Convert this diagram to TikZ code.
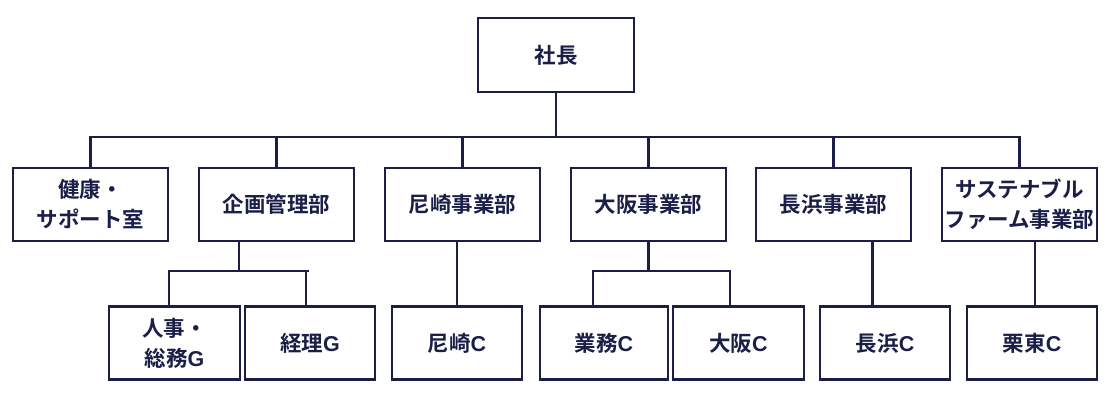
\documentclass[tikz,border=0pt]{standalone}
\usepackage{fontspec}
\newfontfamily\jp{Noto Sans CJK JP}[BoldFont=* Bold]
\newfontfamily\lat{Liberation Sans}
\newcommand{\La}[1]{{\lat\bfseries #1}}
\definecolor{navy}{HTML}{1B1F47}
\begin{document}
\begin{tikzpicture}[x=1pt,y=-1pt,
  box/.style={draw=navy,line width=2.8pt,fill=white,minimum width=155pt,minimum height=73pt,inner sep=0pt,align=center,text=navy,font=\jp\bfseries\fontsize{21.5}{30}\selectfont},
  sbox/.style={box,minimum width=130pt},
  conn/.style={draw=navy,line width=2.2pt}]
\useasboundingbox (0,0) rectangle (1110,400);
\node[box,minimum width=156pt,minimum height=74pt] (ceo) at (556,55) {社長};
\node[box] (d1) at (90.5,204.5) {健康・\\サポート室};
\node[box] (d2) at (276.5,204.5) {企画管理部};
\node[box] (d3) at (462.5,204.5) {尼崎事業部};
\node[box] (d4) at (648.5,204.5) {大阪事業部};
\node[box] (d5) at (833.5,204.5) {長浜事業部};
\node[box] (d6) at (1019.5,204.5) {サステナブル\\ファーム事業部};
\node[sbox,minimum width=131pt] (c1) at (174.5,343) {人事・\\総務\La{G}};
\node[sbox] (c2) at (310,343) {経理\La{G}};
\node[sbox] (c3) at (457,343) {尼崎\La{C}};
\node[sbox,minimum width=128pt] (c4) at (604,343) {業務\La{C}};
\node[sbox,minimum width=131pt] (c5) at (738.5,343) {大阪\La{C}};
\node[sbox] (c6) at (885,343) {長浜\La{C}};
\node[sbox] (c7) at (1032,343) {栗東\La{C}};
% junction coordinates
\coordinate (bus) at (0,137);
\coordinate (sub) at (0,271);
\coordinate (j1) at (169,0);
\coordinate (j2) at (306,0);
\coordinate (j4) at (593,0);
\coordinate (j5) at (730,0);
\coordinate (j6) at (872.5,0);
\coordinate (j7) at (1035,0);
% main bus
\draw[conn] (ceo.south) -- (ceo.south |- bus);
\draw[conn] (d1.north) -- (d1.north |- bus) -- (d6.north |- bus) -- (d6.north);
\foreach \n in {d2,d3,d4,d5}{\draw[conn] (\n.north) -- (\n.north |- bus);}
% 企画管理部
\draw[conn] ([xshift=-37.5pt]d2.south) -- ([xshift=-37.5pt]d2.south |- sub);
\draw[conn] (c1.north -| j1) -- (j1 |- sub) -- ([xshift=3pt]j2 |- sub);
\draw[conn] (c2.north -| j2) -- (j2 |- sub);
% 尼崎
\draw[conn] (d3.south -| c3.north) -- (c3.north);
% 大阪
\draw[conn] (d4.south) -- (d4.south |- sub);
\draw[conn] (c4.north -| j4) -- (j4 |- sub) -- (j5 |- sub) -- (c5.north -| j5);
% 長浜
\draw[conn] (d5.south -| j6) -- (c6.north -| j6);
% 栗東
\draw[conn] (d6.south -| j7) -- (c7.north -| j7);
\end{tikzpicture}
\end{document}
